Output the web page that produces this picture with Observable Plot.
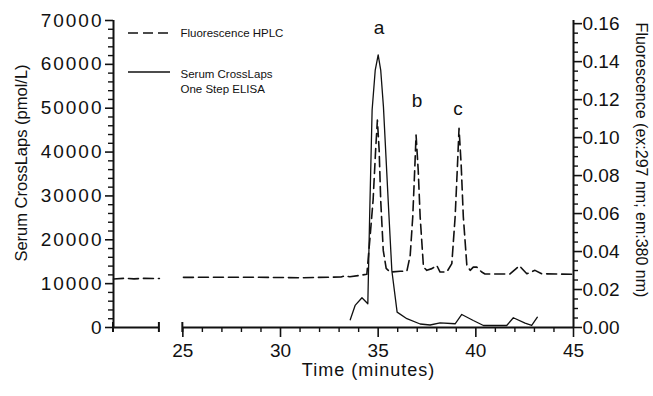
<!DOCTYPE html>
<html>
<head>
<meta charset="utf-8">
<script src="https://cdn.jsdelivr.net/npm/d3@7"></script>
<script src="https://cdn.jsdelivr.net/npm/@observablehq/plot@0.6"></script>
<style>
  html, body { margin: 0; padding: 0; background: #fff; }
  #chart { width: 653px; height: 396px; }
</style>
</head>
<body>
<div id="chart"></div>
<script>
// ---- data ----
const K = 433000; // fluorescence units -> left-axis units (0.16 ≈ 69300 pmol/L)
const xDomain = [21.45, 45];
const axisSegments = [[21.45, 23.8], [25, 45]];
const breakEnds = [21.45, 23.8, 25];

const xTicks = [25, 30, 35, 40, 45];
const xMinorTicks = [26, 27, 28, 29, 31, 32, 33, 34, 36, 37, 38, 39, 41, 42, 43, 44];
const leftTicks = [0, 10000, 20000, 30000, 40000, 50000, 60000, 70000];
const rightTicks = [0, 0.02, 0.04, 0.06, 0.08, 0.10, 0.12, 0.14, 0.16];

// Serum CrossLaps One Step ELISA (pmol/L)
const elisaTime = [33.57, 33.82, 34.17, 34.47, 34.57, 34.69, 34.85, 35.0, 35.13, 35.27, 35.53, 35.70, 35.97, 36.47, 37.15, 37.66, 38.17, 38.94, 39.28, 39.87, 40.39, 41.58, 41.92, 42.52, 42.86, 43.15];
const elisaValue = [1760, 5030, 6790, 5420, 26700, 49600, 58700, 62150, 58700, 50300, 27400, 13000, 3500, 2000, 800, 570, 1070, 850, 2970, 1600, 460, 460, 2220, 980, 460, 2350];

// Fluorescence HPLC (ex:297 nm; em:380 nm)
const fluorTime = [21.45, 22.0, 22.5, 23.0, 23.8,
  25.03, 28.45, 31.01, 33.10, 33.30, 33.55, 34.42, 34.57, 34.74, 34.87, 34.96, 35.05, 35.13, 35.26, 35.41, 35.61, 36.13, 36.47, 36.64, 36.77, 36.87, 36.94, 37.05, 37.15, 37.32, 37.49, 37.75, 38.00, 38.17, 38.51, 38.77, 38.94, 39.06, 39.14, 39.25, 39.36, 39.54, 39.71, 39.87, 40.05, 40.30, 40.47, 41.75, 42.23, 42.61, 43.03, 43.37, 44.97];
const fluorValue = [0.0255, 0.0259, 0.0256, 0.0259, 0.0258,
  0.0264, 0.0265, 0.0262, 0.0266, 0.0272, 0.0267, 0.0280, 0.0459, 0.0670, 0.0934, 0.1092, 0.0934, 0.0670, 0.0406, 0.0311, 0.0292, 0.0296, 0.0297, 0.0380, 0.0582, 0.0828, 0.1013, 0.0828, 0.0582, 0.0318, 0.0301, 0.0310, 0.0327, 0.0292, 0.0292, 0.0336, 0.0582, 0.0855, 0.1049, 0.0855, 0.0582, 0.0327, 0.0301, 0.0318, 0.0318, 0.0292, 0.0282, 0.0282, 0.0325, 0.0283, 0.0301, 0.0283, 0.0280];

const peakLabel = ["a", "b", "c"];
const peakTime = [35.05, 36.99, 39.09];
const peakValue = [68300, 51570, 49930];

const legendLabels = ["Fluorescence HPLC", "Serum CrossLaps\nOne Step ELISA"];
const leftTitle = "Serum CrossLaps (pmol/L)";
const rightTitle = "Fluorescence (ex:297 nm; em:380 nm)";
const xTitle = "Time (minutes)";

// ---- tables built from arrays ----
const elisa = elisaTime.map((t, i) => ({t, v: elisaValue[i]}));
// each trace piece belongs to the axis segment it falls in (broken time axis)
const segmentOf = t => axisSegments.findIndex(([a, b]) => t >= a - 0.01 && t <= b + 0.01);
const fluor = fluorTime.map((t, i) => ({t, f: fluorValue[i], seg: segmentOf(t)}));
const peaks = peakLabel.map((label, i) => ({label, t: peakTime[i], v: peakValue[i]}));
const leftMinor = d3.range(0, 70001, 2000).filter(v => v % 10000 !== 0);
const rightMinor = d3.range(0, 0.1601, 0.005).map(v => +v.toFixed(3)).filter(v => Math.round(v * 1000) % 20 !== 0);

const FONT = "'Liberation Sans', Arial, Helvetica, sans-serif";
const INK = "#111";
const M = {left: 113, right: 80, top: 20, bottom: 69};

const plot = Plot.plot({
  width: 653,
  height: 396,
  marginLeft: M.left,
  marginRight: M.right,
  marginTop: M.top,
  marginBottom: M.bottom,
  style: {fontFamily: FONT, background: "#fff", color: INK, overflow: "visible"},
  x: {type: "linear", domain: xDomain},
  y: {type: "linear", domain: [0, 70000]},
  marks: [
    // axis lines
    Plot.ruleX([xDomain[0]], {stroke: INK, strokeWidth: 2}),
    Plot.ruleX([xDomain[1]], {stroke: INK, strokeWidth: 2}),
    Plot.ruleY(axisSegments, {y: 0, x1: d => d[0], x2: d => d[1], stroke: INK, strokeWidth: 2}),
    // left axis
    Plot.axisY({anchor: "left", ticks: leftTicks, tickSize: 8, tickFormat: () => "", label: null, strokeWidth: 1.6}),
    Plot.axisY({anchor: "left", ticks: leftMinor, tickSize: 5, tickFormat: () => "", label: null, strokeWidth: 1.4}),
    Plot.axisY({anchor: "left", ticks: leftTicks, tickSize: 0, tickPadding: 10, tickFormat: d => String(d), label: null, fontSize: 19}),
    // right axis (fluorescence)
    Plot.axisY({anchor: "right", ticks: rightTicks.map(v => v * K), tickSize: 8, tickFormat: () => "", label: null, strokeWidth: 1.6}),
    Plot.axisY({anchor: "right", ticks: rightMinor.map(v => v * K), tickSize: 4, tickFormat: () => "", label: null, strokeWidth: 1.4}),
    Plot.axisY({anchor: "right", ticks: rightTicks.map(v => v * K), tickSize: 0, tickPadding: 9, tickFormat: d => (d / K).toFixed(2), label: null, fontSize: 19}),
    // x axis
    Plot.axisX({ticks: xTicks, tickSize: 10, tickFormat: () => "", label: null, strokeWidth: 1.6}),
    Plot.axisX({ticks: xMinorTicks, tickSize: 5, tickFormat: () => "", label: null, strokeWidth: 1.4}),
    Plot.axisX({ticks: xTicks, tickSize: 0, tickPadding: 16, tickFormat: d => String(d), label: null, fontSize: 19}),
    // data
    Plot.line(fluor, {x: "t", y: d => d.f * K, z: "seg", stroke: INK, strokeWidth: 1.6, strokeDasharray: "10,5"}),
    Plot.line(elisa, {x: "t", y: "v", stroke: INK, strokeWidth: 1.3}),
    // peak labels
    Plot.text(peaks, {x: "t", y: "v", text: "label", fontSize: 19, fill: INK}),
    // titles
    Plot.text([xTitle], {frameAnchor: "bottom", textAnchor: "middle", lineAnchor: "middle", dx: 25, dy: 43, fontSize: 18, fill: INK}),
    Plot.text([leftTitle], {frameAnchor: "left", textAnchor: "middle", lineAnchor: "middle", dx: -92, dy: -11, rotate: -90, fontSize: 16.5, fill: INK}),
    Plot.text([rightTitle], {frameAnchor: "right", textAnchor: "middle", lineAnchor: "middle", dx: 68, dy: -14, rotate: 90, fontSize: 16, fill: INK}),
    // legend texts
    Plot.text([legendLabels[0]], {frameAnchor: "top-left", textAnchor: "start", lineAnchor: "middle", dx: 67, dy: 13, fontSize: 11.5, fill: INK}),
    Plot.text([legendLabels[1]], {frameAnchor: "top-left", textAnchor: "start", lineAnchor: "middle", dx: 67, dy: 60, lineHeight: 1.3, fontSize: 11.5, fill: INK})
  ]
});

document.getElementById("chart").appendChild(plot);

const svg = d3.select(plot);
// the reference typeface is set a little wider: widen left tick labels and the x title
const leftTickStrings = leftTicks.map(String);
svg.selectAll("text").filter(function () { return leftTickStrings.includes(this.textContent); })
  .attr("letter-spacing", "2px");
svg.selectAll("text").filter(function () { return this.textContent === xTitle; })
  .attr("letter-spacing", "1px");

// axis-break brackets and legend swatches, placed with the plot's own scales
const sx = plot.scale("x"), sy = plot.scale("y");
const yBase = sy.apply(0);
const g = svg.append("g").attr("stroke", INK).attr("stroke-width", 2);
breakEnds.forEach(v => {
  const px = sx.apply(v);
  g.append("line").attr("x1", px).attr("x2", px).attr("y1", yBase - 5).attr("y2", yBase + 5);
});
// legend swatches (relative to frame top-left)
svg.append("line").attr("x1", M.left + 15).attr("x2", M.left + 57).attr("y1", M.top + 13).attr("y2", M.top + 13)
  .attr("stroke", INK).attr("stroke-width", 1.6).attr("stroke-dasharray", "10,5");
svg.append("line").attr("x1", M.left + 15).attr("x2", M.left + 57).attr("y1", M.top + 52).attr("y2", M.top + 52)
  .attr("stroke", INK).attr("stroke-width", 1.3);
</script>
</body>
</html>
